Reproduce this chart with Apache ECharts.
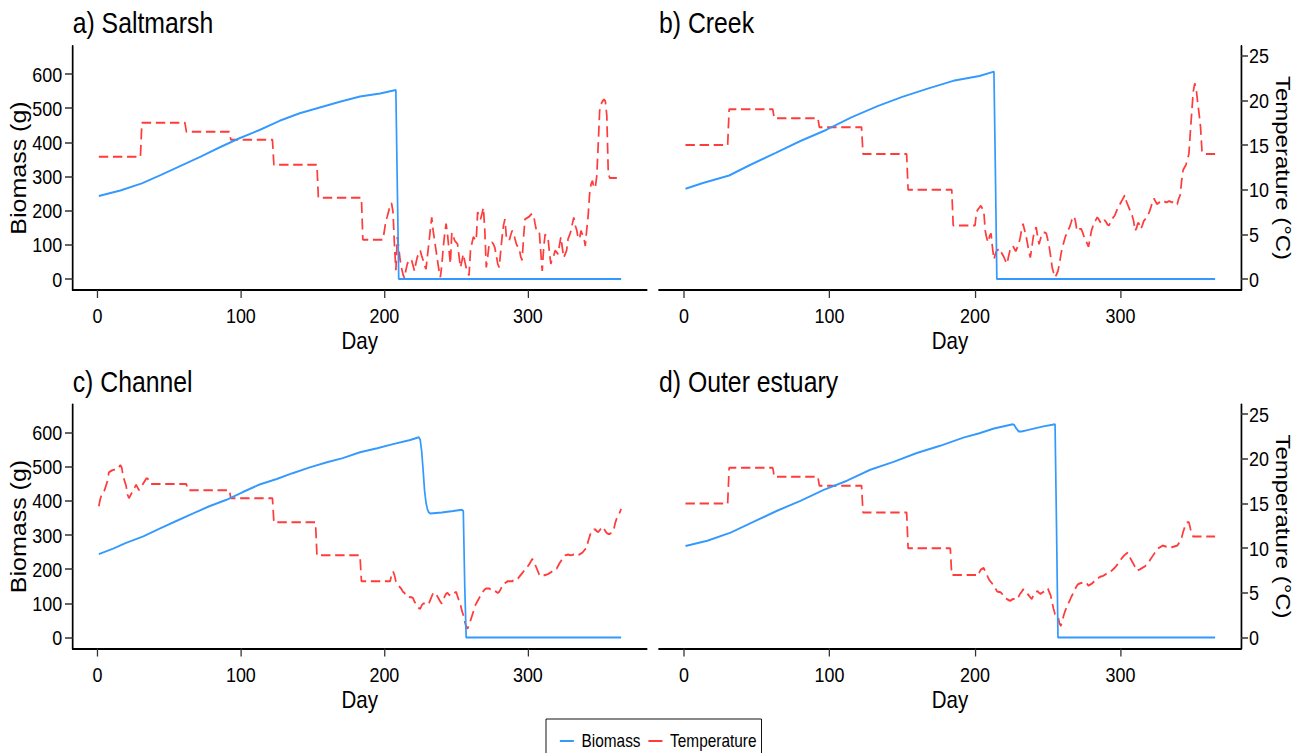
<!DOCTYPE html>
<html>
<head>
<meta charset="utf-8">
<script src="https://cdn.jsdelivr.net/npm/echarts@6/dist/echarts.min.js"></script>
<style>
html,body{margin:0;padding:0;background:#fff;overflow:hidden;}
#frame{width:1305px;height:753px;overflow:hidden;position:relative;}
#chart{height:753px;transform-origin:0 0;position:absolute;left:0;top:0;}
</style>
</head>
<body>
<div id="frame"><div id="chart"></div></div>
<script>
// ---- data (day, value) ----
const panelTitles = ['a) Saltmarsh', 'b) Creek', 'c) Channel', 'd) Outer estuary'];
const xTicks = [0, 100, 200, 300];
const biomassTicks = [0, 100, 200, 300, 400, 500, 600];
const tempTicks = [0, 5, 10, 15, 20, 25];

const saltmarshBiomass = [[1,243],[16,259],[31,280],[44,304],[58,331],[72,358],[85,385],[99,412],[113,436],[127,463],[141,485],[155,502],[169,519],[183,534],[197,543],[208,553],[209,275],[210,0],[365,0]];
const saltmarshTemp = [[1,13.7],[30,13.7],[31,17.5],[61,17.5],[62,16.5],[92,16.5],[93,15.6],[122,15.6],[123,12.8],[153,12.8],[154,9.1],[184,9.1],[185,4.4],[199,4.4],
[200,5.4],[201,6.5],[202,7.0],[203,7.6],[204,8.2],[205,8.5],[206,7.5],[207,3.9],[208,1.0],[209,4.7],[210,3.5],[211,2.1],[212,1.2],[213,0.5],[214,0.1],[215,1.0],[216,1.7],[217,2.0],[218,2.2],[219,2.1],[220,1.5],[221,0.9],[222,1.8],[223,2.5],[224,2.8],[225,3.2],[226,2.6],[227,2.1],[228,1.5],[229,1.1],[230,2.6],[231,4.0],[232,5.5],[233,6.9],[234,5.4],[235,4.3],[236,3.2],[237,2.1],[238,1.0],[239,0.2],[240,1.5],[241,3.5],[242,5.0],[243,6.2],[244,5.0],[245,3.3],[246,1.7],[247,5.2],[248,4.8],[249,4.3],[250,4.1],[251,3.9],[252,2.6],[253,1.3],[254,2.0],[255,2.8],[256,2.0],[257,1.3],[258,0.8],[259,0.4],[260,3.2],[261,4.0],[262,4.7],[263,4.5],[264,4.3],[265,7.5],[266,7.0],[267,6.7],[268,7.3],[269,8.0],[270,5.4],[271,1.3],[272,2.5],[273,3.9],[274,4.0],[275,4.1],[276,3.9],[277,3.5],[278,2.6],[279,1.7],[280,1.3],[281,3.0],[282,4.7],[283,6.0],[284,6.7],[285,4.7],[286,4.5],[287,4.3],[288,4.9],[289,5.4],[290,5.2],[291,4.5],[292,3.9],[293,3.6],[294,3.4],[295,2.5],[296,2.1],[297,4.7],[298,6.7],[299,6.8],[300,6.9],[301,7.0],[302,7.2],[303,7.3],[304,7.1],[305,6.2],[306,5.4],[307,5.3],[308,5.2],[309,3.0],[310,0.9],[311,3.5],[312,5.0],[313,4.8],[314,4.7],[315,3.0],[316,1.7],[317,2.3],[318,2.6],[319,3.2],[320,3.0],[321,2.8],[322,3.8],[323,4.7],[324,3.5],[325,2.4],[326,2.8],[327,3.2],[328,4.5],[329,4.9],[330,5.4],[331,6.2],[332,6.9],[333,6.0],[334,5.5],[335,4.6],[336,4.5],[337,5.4],[338,5.0],[339,4.7],[340,3.7],[341,5.5],[342,7.1],[343,9.5],[344,10.6],[345,11.0],[346,10.2],[347,10.3],[348,11.5],[349,15.0],[350,18.8],[351,19.6],[352,19.9],[353,20.1],[354,19.9],[355,18.3],[356,12.0],[357,11.3],[365,11.3]];

const creekBiomass = [[1,264],[13,281],[31,303],[45,333],[63,369],[80,404],[98,437],[115,473],[133,506],[150,533],[168,558],[185,580],[203,594],[213,607],[214,313],[215,0],[365,0]];
const creekTemp = [[1,15],[30,15],[31,19],[61,19],[62,18],[92,18],[93,17],[122,17],[123,14],[153,14],[154,10],[184,10],[185,6],[200,6],
[201,7.5],[202,7.8],[203,8.0],[204,8.2],[205,7.9],[206,7.7],[207,5.4],[208,4.6],[209,4.1],[210,4.8],[211,5.1],[212,3.5],[213,2.2],[214,2.8],[215,3.2],[216,3.3],[217,3.4],[218,3.0],[219,2.7],[220,2.4],[221,2.0],[222,1.7],[223,2.5],[224,3.2],[225,3.5],[226,3.7],[227,3.4],[228,3.1],[229,3.5],[230,3.9],[231,4.6],[232,5.5],[233,6.2],[234,5.5],[235,4.9],[236,4.0],[237,3.1],[238,2.4],[239,3.5],[240,4.7],[241,5.3],[242,5.8],[243,4.8],[244,3.9],[245,4.5],[246,5.0],[247,5.2],[248,5.2],[249,5.1],[250,4.4],[251,3.6],[252,2.5],[253,1.3],[254,0.7],[255,0.2],[256,0.5],[257,0.9],[258,1.7],[259,2.7],[260,3.6],[261,4.1],[262,4.7],[263,5.1],[264,5.5],[265,5.8],[266,6.3],[267,6.9],[268,7.0],[269,6.5],[270,5.4],[271,5.5],[272,5.6],[273,5.6],[274,5.2],[275,4.7],[276,4.3],[277,4.0],[278,3.6],[279,4.5],[280,5.4],[281,5.9],[282,6.4],[283,6.6],[284,6.9],[285,6.7],[286,6.4],[287,6.2],[288,6.4],[289,6.6],[290,6.4],[291,6.1],[292,6.0],[293,6.3],[294,6.6],[295,6.9],[296,7.1],[297,7.5],[298,7.9],[299,8.2],[300,8.5],[301,8.8],[302,9.1],[303,9.4],[304,8.7],[305,8.3],[306,7.9],[307,7.5],[308,7.1],[309,6.5],[310,5.4],[311,5.7],[312,6.3],[313,6.1],[314,5.6],[315,6.0],[316,6.5],[317,6.7],[318,6.9],[319,7.2],[320,7.6],[321,8.1],[322,8.7],[323,9.0],[324,8.7],[325,8.4],[326,8.5],[327,8.6],[328,8.7],[329,8.8],[330,8.7],[331,8.6],[332,8.6],[333,8.7],[334,8.7],[335,8.6],[336,8.6],[337,8.5],[338,8.3],[339,8.4],[340,9.0],[341,9.4],[342,11.0],[343,12.2],[344,12.5],[345,12.8],[346,13.4],[347,14.0],[348,16.5],[349,18.8],[350,21.0],[351,21.9],[352,21.3],[353,19.8],[354,18.5],[355,17.0],[356,14.3],[357,14.1],[358,14.0],[365,14.0]];

const channelBiomass = [[1,244],[11,260],[20,277],[32,296],[43,318],[55,341],[66,362],[78,384],[90,403],[101,425],[113,448],[125,464],[136,481],[148,498],[160,513],[171,525],[183,542],[195,554],[206,566],[218,578],[224,586],[225,578],[226,545],[227,490],[228,430],[229,395],[230,375],[231,366],[232,363],[240,366],[248,370],[254,374],[255,370],[256,150],[257,0],[365,0]];
const channelTemp = [[1,14.7],[2,15.5],[3,16.0],[5,16.5],[7,17.5],[8,18.5],[10,18.7],[12,18.8],[14,18.9],[16,19.3],[17,19.0],[18,18.0],[20,17.0],[21,16.0],[22,15.6],[24,16.2],[26,16.8],[27,17.1],[28,16.8],[29,16.5],[31,17.0],[33,17.5],[34,17.8],[35,17.8],[36,17.5],[37,17.2],[62,17.2],[63,16.5],[92,16.5],[93,15.6],[122,15.6],[123,12.9],[152,12.9],[153,9.2],[183,9.2],[184,6.3],[204,6.3],
[205,7.0],[206,7.4],[207,7.0],[208,6.3],[209,6.0],[210,5.8],[211,5.6],[212,5.4],[213,5.1],[214,5.0],[215,4.7],[216,4.6],[217,4.6],[218,4.5],[219,4.5],[220,4.4],[221,4.0],[222,3.8],[223,3.5],[224,3.3],[225,3.2],[226,3.6],[227,3.8],[228,3.8],[229,3.8],[230,3.7],[231,3.8],[232,4.2],[233,4.6],[234,5.0],[235,5.0],[236,4.8],[237,4.6],[238,4.3],[239,4.0],[240,3.8],[241,4.2],[242,4.6],[243,4.9],[244,5.0],[245,4.8],[246,4.7],[247,4.8],[248,4.9],[249,5.0],[250,5.1],[251,4.6],[252,4.1],[253,3.7],[254,3.0],[255,2.5],[256,1.8],[257,1.2],[258,1.0],[259,1.4],[260,1.9],[261,2.4],[262,2.9],[263,3.5],[264,3.8],[265,4.1],[266,4.4],[267,4.7],[268,5.0],[269,5.2],[270,5.4],[271,5.5],[272,5.5],[273,5.5],[274,5.4],[275,5.4],[276,5.3],[277,5.2],[278,5.1],[279,5.0],[280,5.1],[281,5.4],[282,5.7],[283,6.0],[284,6.1],[285,6.2],[286,6.3],[287,6.3],[288,6.3],[289,6.3],[290,6.4],[291,6.5],[292,6.5],[293,6.6],[294,6.8],[295,7.0],[296,7.2],[297,7.4],[298,7.6],[299,7.8],[300,8.0],[301,8.2],[302,8.5],[303,8.8],[304,8.6],[305,8.2],[306,7.8],[307,7.4],[308,7.0],[309,6.9],[310,6.9],[312,7.0],[314,7.1],[316,7.3],[318,7.5],[320,7.7],[322,8.3],[324,8.8],[326,9.2],[328,9.3],[330,9.2],[332,9.3],[334,9.2],[336,9.3],[338,9.5],[340,9.9],[341,10.0],[342,10.8],[343,11.3],[344,11.8],[345,12.0],[346,12.1],[347,12.1],[348,11.9],[349,11.8],[350,12.0],[351,12.2],[352,12.4],[353,12.2],[354,11.9],[355,11.7],[356,11.6],[357,11.6],[358,11.7],[359,11.8],[360,12.2],[361,12.9],[362,13.4],[363,13.7],[364,14.0],[365,14.4]];

const outerBiomass = [[1,268],[16,283],[32,307],[48,339],[64,371],[80,400],[96,432],[112,459],[128,491],[144,514],[160,540],[176,561],[192,585],[203,598],[213,612],[226,624],[227,622],[228,614],[230,603],[232,603],[236,607],[247,618],[255,624],[256,327],[257,0],[365,0]];
const outerTemp = [[1,15],[30,15],[31,19],[61,19],[62,18],[92,18],[93,17],[122,17],[123,14],[153,14],[154,10],[183,10],[184,7],[201,7],
[202,6.9],[203,7.3],[204,7.6],[205,7.7],[206,7.8],[207,7.4],[208,7.1],[209,6.7],[210,6.4],[211,6.2],[212,6.0],[213,5.8],[214,5.5],[215,5.2],[216,5.1],[217,5.1],[218,5.0],[219,4.8],[220,4.6],[221,4.4],[222,4.3],[223,4.2],[224,4.1],[225,4.2],[226,4.3],[227,4.3],[228,4.3],[229,4.3],[230,4.6],[231,4.9],[232,5.1],[233,5.4],[234,5.3],[235,5.1],[236,4.9],[237,4.7],[238,4.5],[239,4.3],[240,4.7],[241,5.0],[242,5.1],[243,5.2],[244,5.0],[245,4.9],[246,5.0],[247,5.1],[248,5.2],[249,5.4],[250,5.5],[251,5.1],[252,4.7],[253,3.9],[254,3.2],[255,2.6],[256,2.5],[257,2.4],[258,1.6],[259,1.3],[260,1.9],[261,2.5],[262,3.0],[263,3.4],[264,3.8],[265,4.1],[266,4.5],[267,4.8],[268,5.2],[269,5.5],[270,5.8],[271,6.0],[273,6.1],[275,6.2],[277,6.0],[278,5.8],[280,6.0],[282,6.3],[284,6.6],[286,6.8],[288,6.9],[290,7.1],[292,7.3],[294,7.5],[296,7.8],[298,8.2],[300,8.7],[302,9.1],[304,9.4],[305,9.5],[306,9.1],[307,8.8],[308,8.5],[309,8.2],[310,7.9],[311,7.5],[313,7.6],[315,7.8],[317,8.0],[318,8.2],[320,8.6],[322,9.1],[324,9.6],[325,9.9],[327,10.1],[329,10.3],[331,10.2],[333,10.1],[335,10.1],[337,10.2],[339,10.3],[341,10.8],[342,11.2],[343,11.8],[344,12.3],[345,12.8],[346,12.9],[347,12.9],[348,12.2],[349,11.6],[350,11.3],[365,11.3]];

const biomassSeries = [saltmarshBiomass, creekBiomass, channelBiomass, outerBiomass];
const tempSeries = [saltmarshTemp, creekTemp, channelTemp, outerTemp];

// ---- layout / style ----
// The reference is drawn with a horizontal aspect of ~0.855 (text is narrow),
// so the chart is laid out on a wider canvas and squeezed horizontally.
const SX = 0.855;
const W = 1305 / SX;
const px = v => v / SX;   // convert a target-picture x distance to layout units

const FONT = '"Liberation Sans", Arial, sans-serif';
const BLUE = '#3399ff';
const RED = '#ff3b3b';
const gridBoxes = [
  {left: px(72.7), top: 46,    width: px(574), height: 244},
  {left: px(659),  top: 46,    width: px(582), height: 244},
  {left: px(72.7), top: 404.5, width: px(574), height: 244},
  {left: px(659),  top: 404.5, width: px(582), height: 244}
];
const titleTops = [9, 9, 368, 368];
const axisLineStyle = {color: '#000', width: 2};
const tickStyle = {color: '#333', width: 1.5};

const el = document.getElementById('chart');
el.style.width = W + 'px';
el.style.transform = 'scaleX(' + SX + ')';

const option = {
  animation: false,
  backgroundColor: '#fff',
  title: panelTitles.map((t, i) => ({
    text: t, left: gridBoxes[i].left, top: titleTops[i], padding: 0,
    textStyle: {fontFamily: FONT, fontSize: 29, fontWeight: 'normal', color: '#000'}
  })),
  legend: {
    left: px(546), top: 719, orient: 'horizontal',
    borderColor: '#000', borderWidth: 1, padding: [13, px(5), 20, px(13)],
    itemWidth: px(14), itemHeight: 14, itemGap: px(7),
    textStyle: {fontFamily: FONT, fontSize: 18, color: '#000', padding: [0, 0, 0, 4]},
    data: ['Biomass', 'Temperature']
  },
  grid: gridBoxes.map(g => Object.assign({containLabel: false}, g)),
  xAxis: gridBoxes.map((g, i) => ({
    type: 'value', gridIndex: i, min: -17.2, max: 382.8,
    name: 'Day', nameLocation: 'middle', nameGap: 39,
    nameTextStyle: {fontFamily: FONT, fontSize: 24, color: '#000'},
    axisLine: {show: true, onZero: false, lineStyle: axisLineStyle},
    axisTick: {show: true, length: 8, lineStyle: tickStyle, customValues: xTicks},
    axisLabel: {show: true, margin: 15, fontFamily: FONT, fontSize: 21, color: '#000', customValues: xTicks},
    splitLine: {show: false}
  })),
  yAxis: [],
  // legend keys: empty series whose solid style the legend picks up first
  series: [
    {name: 'Biomass', type: 'line', xAxisIndex: 0, yAxisIndex: 0, data: [], symbol: 'none',
     lineStyle: {color: BLUE, width: 2.4, type: 'solid'}, itemStyle: {color: BLUE, opacity: 0}},
    {name: 'Temperature', type: 'line', xAxisIndex: 0, yAxisIndex: 1, data: [], symbol: 'none',
     lineStyle: {color: RED, width: 2.4, type: 'solid'}, itemStyle: {color: RED, opacity: 0}}
  ]
};

gridBoxes.forEach((g, i) => {
  const isLeft = (i % 2 === 0);
  option.yAxis.push({
    type: 'value', gridIndex: i, position: 'left', min: -32.2, max: 682,
    show: isLeft,
    name: 'Biomass (g)', nameLocation: 'middle', nameGap: 43, nameRotate: 90,
    nameTextStyle: {fontFamily: FONT, fontSize: 25, color: '#000'},
    axisLine: {show: true, onZero: false, lineStyle: axisLineStyle},
    axisTick: {show: true, length: px(7.7), lineStyle: tickStyle, customValues: biomassTicks},
    axisLabel: {show: true, margin: px(10.4), fontFamily: FONT, fontSize: 21, color: '#000', customValues: biomassTicks},
    splitLine: {show: false}
  });
  option.yAxis.push({
    type: 'value', gridIndex: i, position: 'right', min: -1.23, max: 26.09,
    show: !isLeft,
    name: 'Temperature (°C)', nameLocation: 'middle', nameGap: 26.5, nameRotate: -90,
    nameTextStyle: {fontFamily: FONT, fontSize: 24, color: '#000'},
    axisLine: {show: true, onZero: false, lineStyle: axisLineStyle},
    axisTick: {show: true, length: px(7), lineStyle: tickStyle, customValues: tempTicks},
    axisLabel: {show: true, margin: px(8), fontFamily: FONT, fontSize: 21, color: '#000', customValues: tempTicks},
    splitLine: {show: false}
  });
  option.series.push({
    name: 'Biomass', type: 'line', xAxisIndex: i, yAxisIndex: 2 * i,
    data: biomassSeries[i], showSymbol: false, symbol: 'none', z: 3,
    lineStyle: {color: BLUE, width: 2}, itemStyle: {color: BLUE}
  });
  option.series.push({
    name: 'Temperature', type: 'line', xAxisIndex: i, yAxisIndex: 2 * i + 1,
    data: tempSeries[i], showSymbol: false, symbol: 'none', z: 2,
    lineStyle: {color: RED, width: 2, type: [11, 5.5]}, itemStyle: {color: RED}
  });
});

const chart = echarts.init(el, null, {renderer: 'svg', width: W, height: 753});
chart.setOption(option);
</script>
</body>
</html>
